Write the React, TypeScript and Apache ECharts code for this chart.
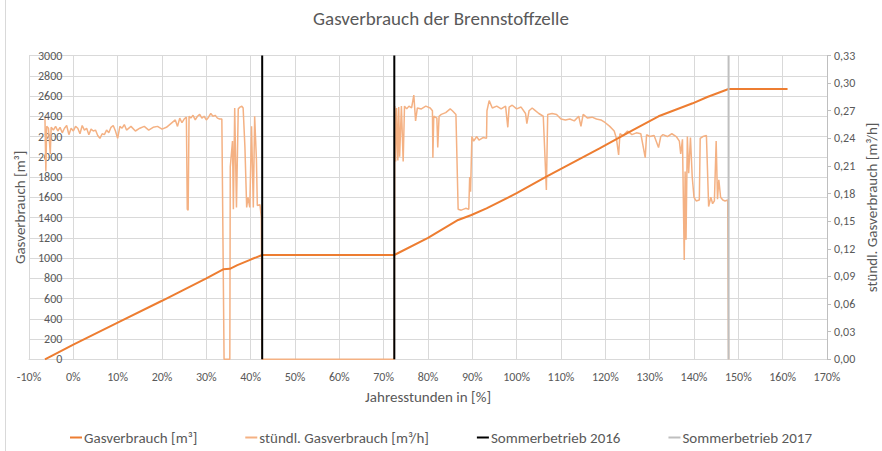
import React, { useEffect, useRef } from "react";
import * as echarts from "echarts";

// ---- data ----
const chartTitle = "Gasverbrauch der Brennstoffzelle";
const xMin = -10;
const xMax = 170;
const xInterval = 10;
const leftMax = 3000;
const leftInterval = 200;
const rightMax = 0.33;
const rightInterval = 0.03;

// cumulative gas consumption [m³] over year hours [%]
const cumX = [-6.4, 0, 10, 20, 30, 33.8, 35.3, 37, 40, 42.6, 72.4, 80, 86.8, 89.8, 93.2, 100, 106.7, 118.7, 126.2, 132, 139.7, 143, 147.8, 161.1];
const cumY = [0, 145, 362, 578, 800, 889, 893, 930, 985, 1030, 1030, 1200, 1376, 1425, 1491, 1640, 1803, 2083, 2264, 2400, 2528, 2590, 2669, 2669];

// hourly gas consumption [m³/h]
const hourX = [
  -6.4, -6.2, -6.0, -5.6, -5.2, -5.0, -4.5, -4.0, -3.5, -3.0, -2.5, -2.0, -1.5, -1.0, -0.5,
  0, 0.5, 1, 1.5, 2, 2.5, 3, 3.5, 4, 4.5, 5, 5.5, 6, 6.5, 7, 7.5, 8, 8.5, 9, 9.5, 10, 10.5, 11, 11.5, 12,
  13, 14, 15, 16, 17, 18, 19, 20, 21, 22, 23, 23.5, 24, 24.5, 25, 25.5, 25.7, 25.9, 26.1, 26.5, 27, 27.5,
  28, 28.5, 29, 29.5, 30, 30.5, 31, 31.5, 32, 32.5, 33, 33.5, 34.0, 35.3, 35.4, 35.9, 36.1, 36.4, 36.8,
  37.2, 37.6, 38.0, 38.3, 38.7, 39.1, 39.4, 39.8, 40.2, 40.6, 40.9, 41.3, 41.5, 42.1, 42.4, 42.6, 72.4,
  72.5, 72.7, 72.9, 73.2, 73.4, 73.6, 74.0, 74.4, 74.7, 75.2, 75.7, 76.3, 76.8, 77.2, 77.6, 78.5, 79.5,
  80.5, 81.0, 81.1, 81.3, 82.0, 82.2, 82.5, 83, 84, 85, 85.5, 86.3, 86.8, 87.5, 88.5, 89.2, 89.4, 89.6,
  89.9, 90.3, 91, 91.5, 92.5, 93.2, 93.3, 93.8, 94.5, 95.5, 96.5, 97.5, 98.0, 98.3, 99, 100, 101, 102.0,
  102.3, 102.8, 103.5, 104, 105, 106, 106.7, 107, 108, 109, 110, 111, 112, 113, 114, 114.5, 115, 116,
  117, 118, 119, 120, 121, 122, 122.5, 123.0, 123.3, 124, 125, 126, 127, 128, 129, 129.3, 130, 131, 132,
  132.5, 133, 134, 135, 136, 136.7, 137.0, 137.4, 137.8, 138.0, 138.2, 138.5, 138.8, 139.2, 139.6, 140.0,
  140.5, 141.2, 141.4, 142, 142.8, 143.3, 143.8, 144.2, 144.6, 145.0, 145.3, 145.6, 146.0, 146.5, 147.0,
  147.6, 147.8
];
const hourY = [
  0.262, 0.204, 0.253, 0.251, 0.223, 0.252, 0.249, 0.253, 0.248, 0.252, 0.246, 0.251, 0.254, 0.244, 0.251,
  0.248, 0.253, 0.251, 0.245, 0.254, 0.249, 0.251, 0.244, 0.250, 0.248, 0.249, 0.243, 0.240, 0.245, 0.244, 0.249, 0.246, 0.252, 0.254, 0.248, 0.240, 0.253, 0.251, 0.255, 0.249,
  0.253, 0.248, 0.251, 0.253, 0.249, 0.252, 0.253, 0.250, 0.252, 0.256, 0.260, 0.253, 0.262, 0.257, 0.261, 0.263, 0.163, 0.162, 0.264, 0.262, 0.265, 0.260,
  0.264, 0.266, 0.262, 0.264, 0.260, 0.263, 0.267, 0.264, 0.265, 0.262, 0.261, 0.261, 0.0, 0.0, 0.209, 0.237, 0.163, 0.273, 0.165,
  0.272, 0.274, 0.275, 0.273, 0.231, 0.165, 0.176, 0.165, 0.253, 0.165, 0.264, 0.217, 0.167, 0.168, 0.154, 0.0, 0.0,
  0.275, 0.215, 0.273, 0.216, 0.274, 0.220, 0.275, 0.215, 0.275, 0.272, 0.275, 0.273, 0.287, 0.259, 0.273, 0.272, 0.275,
  0.273, 0.270, 0.219, 0.264, 0.262, 0.230, 0.264, 0.266, 0.268, 0.272, 0.270, 0.266, 0.163, 0.162, 0.164, 0.163, 0.198, 0.182,
  0.242, 0.237, 0.242, 0.238, 0.241, 0.240, 0.270, 0.281, 0.273, 0.275, 0.272, 0.275, 0.252, 0.274, 0.276, 0.272, 0.274, 0.267,
  0.256, 0.270, 0.273, 0.271, 0.267, 0.264, 0.184, 0.266, 0.267, 0.266, 0.261, 0.260, 0.261, 0.259, 0.264, 0.253, 0.266, 0.262,
  0.263, 0.261, 0.260, 0.257, 0.253, 0.248, 0.240, 0.222, 0.245, 0.243, 0.248, 0.244, 0.246, 0.245, 0.219, 0.244, 0.242, 0.243, 0.230,
  0.242, 0.244, 0.242, 0.245, 0.242, 0.237, 0.223, 0.239, 0.108, 0.204, 0.130, 0.242, 0.202, 0.241, 0.198, 0.176,
  0.172, 0.173, 0.240, 0.242, 0.243, 0.166, 0.176, 0.169, 0.172, 0.237, 0.174, 0.195, 0.176, 0.173, 0.172,
  0.173, 0.0
];

// summer operation markers (year hours [%])
const summer2016X = [42.6, 72.4];
const summer2017X = [147.8];

const seriesNames = [
  "Gasverbrauch [m³]",
  "stündl. Gasverbrauch [m³/h]",
  "Sommerbetrieb 2016",
  "Sommerbetrieb 2017",
];
const xAxisName = "Jahresstunden in [%]";
const leftAxisName = "Gasverbrauch [m³]";
const rightAxisName = "stündl. Gasverbrauch [m³/h]";

const FONT = "Calibri, Carlito, Lato, sans-serif";
const TEXT = "#595959";
const GRID = "#d9d9d9";

const GRID_LEFT = 29;
const GRID_RIGHT = 55;
const GRID_TOP = 55.5;
const GRID_BOTTOM = 91.7;
const CHART_W = 882;
const CHART_H = 451;

export default function App() {
  const ref = useRef<HTMLDivElement>(null);

  useEffect(() => {
    document.body.style.margin = "0";
    if (!ref.current) return;
    const chart = echarts.init(ref.current, undefined, { renderer: "svg" });

    // value axis crosses the horizontal axis at x = 0 (like Excel scatter)
    const plotW = CHART_W - GRID_LEFT - GRID_RIGHT;
    const yAxisOffset = -((0 - xMin) / (xMax - xMin)) * plotW;
    const plotMidY = (GRID_TOP + (CHART_H - GRID_BOTTOM)) / 2;

    const vLines = (xs: number[], name: string, color: string) =>
      xs.map((x) => ({
        name,
        type: "line",
        yAxisIndex: 0,
        data: [
          [x, 0],
          [x, leftMax],
        ],
        symbol: "none",
        lineStyle: { color, width: 2 },
        itemStyle: { color },
        z: 6,
      }));

    chart.setOption({
      animation: false,
      textStyle: { fontFamily: FONT },
      title: {
        text: chartTitle,
        left: "center",
        top: 4,
        textStyle: { fontFamily: FONT, fontSize: 19, fontWeight: "normal", color: TEXT },
      },
      legend: {
        data: seriesNames,
        bottom: 1,
        left: "center",
        icon: "rect",
        itemGap: 48,
        itemWidth: 12,
        itemHeight: 2,
        textStyle: { fontFamily: FONT, fontSize: 15, color: TEXT, padding: [0, 0, 0, -3] },
      },
      grid: {
        left: GRID_LEFT,
        right: GRID_RIGHT,
        top: GRID_TOP,
        bottom: GRID_BOTTOM,
        containLabel: false,
        outerBoundsMode: "none",
      },
      xAxis: {
        type: "value",
        min: xMin,
        max: xMax,
        interval: xInterval,
        name: xAxisName,
        nameLocation: "middle",
        nameGap: 30,
        nameTextStyle: { fontFamily: FONT, fontSize: 15, color: TEXT },
        axisLine: { show: true, lineStyle: { color: GRID } },
        axisTick: { show: false },
        axisLabel: {
          fontFamily: FONT,
          fontSize: 12,
          color: TEXT,
          margin: 12,
          formatter: (v: number) => `${Math.round(v)}%`,
        },
        splitLine: { show: true, lineStyle: { color: GRID, width: 1 } },
      },
      yAxis: [
        {
          type: "value",
          min: 0,
          max: leftMax,
          interval: leftInterval,
          offset: yAxisOffset,
          name: leftAxisName,
          nameLocation: "middle",
          nameGap: 46,
          nameTextStyle: { fontFamily: FONT, fontSize: 15, color: TEXT },
          axisLine: { show: false, onZero: false },
          axisTick: { show: false },
          axisLabel: {
            fontFamily: FONT,
            fontSize: 12,
            color: TEXT,
            margin: 11,
            formatter: (v: number) => String(Math.round(v)),
          },
          splitLine: { show: true, lineStyle: { color: GRID, width: 1 } },
        },
        {
          type: "value",
          position: "right",
          min: 0,
          max: rightMax,
          interval: rightInterval,
          axisLine: { show: true, onZero: false, lineStyle: { color: "#bfbfbf" } },
          axisTick: { show: true, length: 4, lineStyle: { color: "#bfbfbf" } },
          axisLabel: {
            fontFamily: FONT,
            fontSize: 12,
            color: TEXT,
            margin: 7,
            formatter: (v: number) => v.toFixed(2).replace(".", ","),
          },
          splitLine: { show: false },
        },
      ],
      graphic: [
        {
          type: "line",
          shape: { x1: 5.5, y1: 0, x2: 5.5, y2: CHART_H },
          style: { stroke: GRID, lineWidth: 1 },
          silent: true,
        },
        {
          type: "text",
          x: 872,
          y: plotMidY,
          rotation: Math.PI / 2,
          style: {
            text: rightAxisName,
            fontFamily: FONT,
            fontSize: 15,
            fill: TEXT,
            align: "center",
            verticalAlign: "middle",
          },
          silent: true,
        },
      ],
      series: [
        {
          name: seriesNames[1],
          type: "line",
          yAxisIndex: 1,
          data: hourX.map((x, i) => [x, hourY[i]]),
          symbol: "none",
          lineStyle: { color: "#F4B183", width: 1.5 },
          itemStyle: { color: "#F4B183" },
          z: 3,
        },
        {
          name: seriesNames[0],
          type: "line",
          yAxisIndex: 0,
          data: cumX.map((x, i) => [x, cumY[i]]),
          symbol: "none",
          lineStyle: { color: "#ED7D31", width: 2 },
          itemStyle: { color: "#ED7D31" },
          z: 4,
        },
        ...vLines(summer2016X, seriesNames[2], "#000000"),
        ...vLines(summer2017X, seriesNames[3], "#BFBFBF"),
      ],
    });

    return () => chart.dispose();
  }, []);

  return <div ref={ref} style={{ width: CHART_W, height: CHART_H }} />;
}
